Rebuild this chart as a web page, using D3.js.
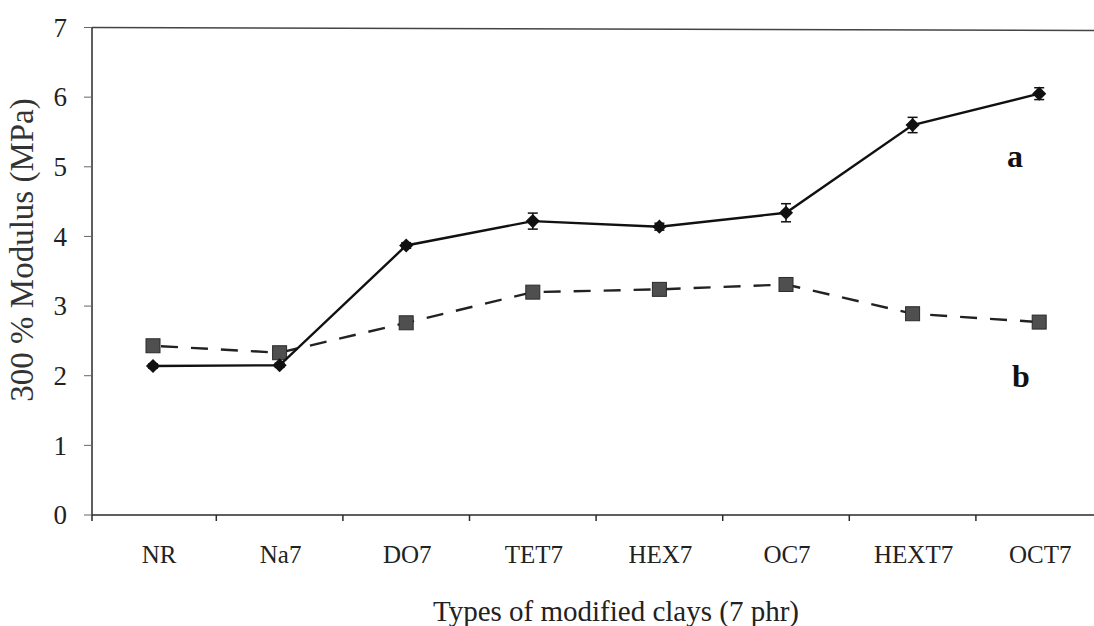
<!DOCTYPE html>
<html><head><meta charset="utf-8">
<script src="https://cdn.jsdelivr.net/npm/d3@7"></script>
<style>body{margin:0;background:#fff}svg{display:block}</style>
</head><body>
<svg id="c" width="1094" height="626"></svg>
<script>
const categories = ["NR","Na7","DO7","TET7","HEX7","OC7","HEXT7","OCT7"];
const seriesA = [2.14, 2.15, 3.87, 4.22, 4.14, 4.34, 5.60, 6.05];
const errorA  = [0.03, 0.03, 0.04, 0.115, 0.05, 0.13, 0.11, 0.085];
const seriesB = [2.43, 2.33, 2.76, 3.20, 3.24, 3.31, 2.89, 2.77];
const yTicks = [0,1,2,3,4,5,6,7];
const yTitle = "300 % Modulus (MPa)";
const xTitle = "Types of modified clays (7 phr)";
const labelA = "a", labelB = "b";

const svg = d3.select("#c");
const L = 92, T = 27.5, B = 515, step = 126.6;
const x = d3.scaleBand().domain(categories).range([153 - step/2, 153 - step/2 + 8*step]);
const y = d3.scaleLinear().domain([0,7]).range([B, T]);
const font = "Liberation Serif, Times New Roman, serif";
const ink = "#2a2a2a";

// frame lines
svg.append("line").attr("x1",L).attr("x2",1094).attr("y1",T).attr("y2",T+3).attr("stroke","#444").attr("stroke-width",1.5);
svg.append("line").attr("x1",L).attr("x2",L).attr("y1",T).attr("y2",B).attr("stroke",ink).attr("stroke-width",1.5);
svg.append("line").attr("x1",L).attr("x2",1094).attr("y1",B).attr("y2",B).attr("stroke",ink).attr("stroke-width",1.5);

// y ticks
const yg = svg.append("g");
yTicks.forEach(t=>{
  yg.append("line").attr("x1",L-8).attr("x2",L).attr("y1",y(t)).attr("y2",y(t)).attr("stroke","#666").attr("stroke-width",1);
  yg.append("text").attr("x",67).attr("y",y(t)).attr("dy","0.34em").attr("text-anchor","end")
    .attr("font-family",font).attr("font-size",27).attr("fill","#222").text(t);
});
// x ticks at band boundaries
categories.forEach((c,i)=>{
  const xb = i === 0 ? L : x(c);
  svg.append("line").attr("x1",xb).attr("x2",xb).attr("y1",B).attr("y2",B+6).attr("stroke",ink).attr("stroke-width",1.5);
  svg.append("text").attr("x",x(c) + x.bandwidth()/2 + (i===0?6:1)).attr("y",563).attr("text-anchor","middle")
    .attr("font-family",font).attr("font-size",25).attr("fill","#222").text(c);
});

// titles
svg.append("text").attr("transform","translate(33,250) rotate(-90)").attr("text-anchor","middle")
  .attr("font-family",font).attr("font-size",33).attr("fill","#333").text(yTitle);
svg.append("text").attr("x",616).attr("y",621).attr("text-anchor","middle")
  .attr("font-family",font).attr("font-size",29).attr("fill","#222").text(xTitle);

const cx = c => x(c) + x.bandwidth()/2;

// series b (dashed, squares)
const lineB = d3.line().x((d,i)=>cx(categories[i])).y(d=>y(d));
svg.append("path").datum(seriesB).attr("d",lineB).attr("fill","none").attr("stroke","#222")
  .attr("stroke-width",2.4).attr("stroke-dasharray","17,13").attr("stroke-dashoffset",-8);
svg.selectAll(".sq").data(seriesB).enter().append("rect")
  .attr("x",(d,i)=>cx(categories[i])-7).attr("y",d=>y(d)-7).attr("width",14).attr("height",14)
  .attr("fill","#4f4f4f").attr("stroke","#2a2a2a").attr("stroke-width",1);

// series a (solid, diamonds with error bars)
const lineA = d3.line().x((d,i)=>cx(categories[i])).y(d=>y(d));
svg.append("path").datum(seriesA).attr("d",lineA).attr("fill","none").attr("stroke","#111").attr("stroke-width",2.4);
const eg = svg.append("g");
seriesA.forEach((v,i)=>{
  const px = cx(categories[i]);
  const y1 = y(v+errorA[i]), y2 = y(v-errorA[i]);
  eg.append("line").attr("x1",px).attr("x2",px).attr("y1",y1).attr("y2",y2).attr("stroke","#111").attr("stroke-width",1.5);
  [y1,y2].forEach(yy=>eg.append("line").attr("x1",px-5).attr("x2",px+5).attr("y1",yy).attr("y2",yy).attr("stroke","#111").attr("stroke-width",1.5));
});
svg.selectAll(".dm").data(seriesA).enter().append("path")
  .attr("d",d3.symbol().type(d3.symbolSquare).size(100))
  .attr("transform",(d,i)=>`translate(${cx(categories[i])},${y(d)}) rotate(45)`)
  .attr("fill","#111");

// series labels
svg.append("text").attr("x",1015).attr("y",167).attr("text-anchor","middle").attr("font-family",font)
  .attr("font-weight","bold").attr("font-size",32).attr("fill","#111").text(labelA);
svg.append("text").attr("x",1021).attr("y",387).attr("text-anchor","middle").attr("font-family",font)
  .attr("font-weight","bold").attr("font-size",32).attr("fill","#111").text(labelB);
</script>
</body></html>
